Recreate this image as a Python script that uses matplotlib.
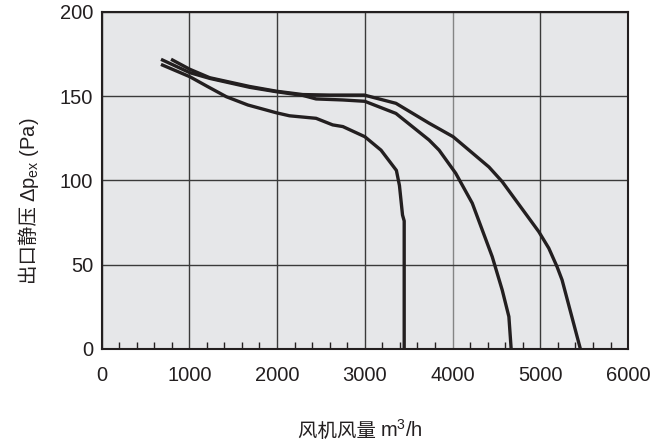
import matplotlib
matplotlib.use('Agg')
import matplotlib.pyplot as plt
from matplotlib.ticker import MultipleLocator

plt.rcParams['font.family'] = ['Liberation Sans', 'Noto Sans CJK SC']
plt.rcParams['mathtext.fontset'] = 'custom'
plt.rcParams['mathtext.rm'] = 'Liberation Sans'

# fan curves: airflow (m3/h) vs static pressure (Pa)
flow_a = [695, 1006, 1200, 1423, 1668, 1991, 2142, 2445, 2634, 2750, 3000, 3185, 3360,
          3395, 3430, 3449, 3449]
pres_a = [168.5, 161.6, 156, 149.7, 144.8, 140.2, 138.4, 136.9, 133, 132, 126, 118, 106,
          97, 79.5, 76, 0]

flow_b = [695, 1006, 1233, 1688, 1991, 2293, 2445, 2748, 3000, 3355, 3733, 3847, 4036,
          4225, 4452, 4566, 4642, 4668]
pres_b = [171.5, 164, 160.6, 155.3, 152.7, 150.5, 148.4, 147.8, 147, 139.8, 124, 118, 104.3,
          86.5, 54.8, 35, 19.2, 0]

flow_c = [809, 1006, 1233, 1688, 1991, 2293, 2600, 2994, 3355, 3733, 4006, 4188, 4415,
          4566, 4983, 5097, 5191, 5248, 5457]
pres_c = [171.5, 166, 161, 155.8, 153, 151, 150.7, 150.7, 145.8, 134, 126, 118, 108,
          99.3, 69.6, 59.8, 48.8, 41, 0]

x_ticks = [0, 1000, 2000, 3000, 4000, 5000, 6000]
y_ticks = [0, 50, 100, 150, 200]

ink = '#231f20'

fig = plt.figure(figsize=(6.71, 4.46), dpi=100)
ax = fig.add_axes([0.1513, 0.2175, 0.7847, 0.7556])
ax.set_facecolor('#e6e7e9')

for fx, py in [(flow_a, pres_a), (flow_b, pres_b), (flow_c, pres_c)]:
    ax.plot(fx, py, color=ink, lw=2.4, solid_joinstyle='round', zorder=3)

ax.set_xlim(0, 6000)
ax.set_ylim(0, 200)
ax.set_xticks(x_ticks)
ax.set_yticks(y_ticks)
ax.xaxis.set_minor_locator(MultipleLocator(200))
ax.grid(True, which='major', color='#3a3a3a', lw=1.0)
ax.set_axisbelow(True)
for line, val in zip(ax.get_xgridlines(), x_ticks):
    if val == 4000:
        line.set_color('#858585')

ax.tick_params(axis='x', which='major', length=0, pad=12, labelsize=14.5, colors=ink)
ax.tick_params(axis='x', which='minor', direction='in', length=5, width=1, color=ink)
ax.tick_params(axis='y', which='both', length=0, pad=6, labelsize=14.5, colors=ink)
for s in ax.spines.values():
    s.set_linewidth(1.5)
    s.set_color(ink)

# axis titles: CJK part and the math part are separate texts sharing one anchor
ax.text(0.529, -0.261, '风机风量 ', transform=ax.transAxes, ha='right', va='baseline',
        fontsize=14, color=ink, family='Noto Sans CJK SC')
ax.text(0.529, -0.261, 'm$^\\mathregular{3}$/h', transform=ax.transAxes, ha='left',
        va='baseline', fontsize=14.5, color=ink)

ax.text(-0.126, 0.436, '出口静压 ', transform=ax.transAxes, rotation=90,
        rotation_mode='anchor', ha='right', va='baseline', fontsize=14, color=ink,
        family='Noto Sans CJK SC')
ax.text(-0.126, 0.436, 'Δp$_\\mathregular{ex}$ (Pa)', transform=ax.transAxes, rotation=90,
        rotation_mode='anchor', ha='left', va='baseline', fontsize=14.5, color=ink)

fig.savefig('out.png', dpi=100)
